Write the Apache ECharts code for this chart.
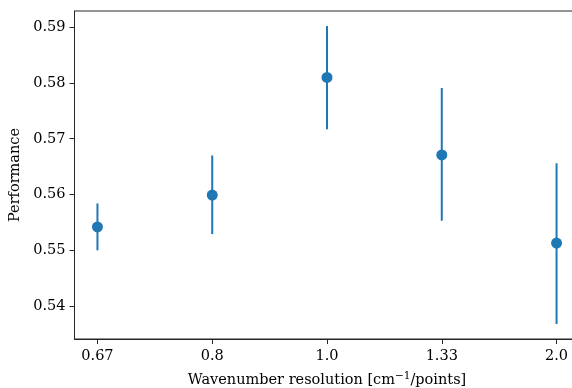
<!DOCTYPE html>
<html><head><meta charset="utf-8">
<script src="https://cdn.jsdelivr.net/npm/echarts@6/dist/echarts.min.js"></script>
<style>html,body{margin:0;padding:0;background:#fff}#c{width:572px;height:388px}</style>
</head><body><div id="c"></div>
<script>
const categories = ['0.67', '0.8', '1.0', '1.33', '2.0'];
const means = [0.5542, 0.5599, 0.5810, 0.5671, 0.5513];
const upper = [0.5584, 0.5670, 0.5902, 0.5791, 0.5656];
const lower = [0.5500, 0.5529, 0.5717, 0.5553, 0.5368];
const yTicks = [0.54, 0.55, 0.56, 0.57, 0.58, 0.59];

const FONT = 'DejaVu Serif';
const FS = 14.5;
const C = '#1f77b4';
const idx = categories.map((_, i) => i);

const chart = echarts.init(document.getElementById('c'), null, {renderer: 'canvas'});
chart.setOption({
  animation: false,
  backgroundColor: '#fff',
  grid: {left: 74.5, top: 11, width: 505, height: 328, outerBoundsMode: 'none', containLabel: false,
    show: true, borderColor: '#262626', borderWidth: 1},
  xAxis: {
    type: 'value', min: -0.2, max: 4.2,
    name: 'Wavenumber resolution [{s|cm}{sup|−1}{s|/points]}',
    nameLocation: 'middle', nameGap: 32,
    nameTextStyle: {fontFamily: FONT, fontSize: FS, color: '#000',
      rich: {s: {fontFamily: FONT, fontSize: FS, color: '#000'},
             sup: {fontFamily: FONT, fontSize: 10.5, color: '#000', verticalAlign: 'top', padding: [0, 0, 7, 0]}}},
    axisLine: {show: true, onZero: false, lineStyle: {color: '#262626', width: 1}},
    axisTick: {show: true, length: 5, lineStyle: {color: '#262626'}, customValues: idx},
    axisLabel: {color: '#000', fontFamily: FONT, fontSize: FS, margin: 10,
      customValues: idx, formatter: v => categories[Math.round(v)]},
    splitLine: {show: false}
  },
  yAxis: {
    type: 'value', min: 0.5341, max: 0.5929,
    name: 'Performance', nameLocation: 'middle', nameGap: 51, nameRotate: 90,
    nameTextStyle: {fontFamily: FONT, fontSize: FS, color: '#000'},
    axisLine: {show: true, onZero: false, lineStyle: {color: '#262626', width: 1}},
    axisTick: {show: true, length: 5, lineStyle: {color: '#262626'}, customValues: yTicks},
    axisLabel: {color: '#000', fontFamily: FONT, fontSize: FS, margin: 9,
      customValues: yTicks, formatter: v => v.toFixed(2)},
    splitLine: {show: false}
  },
  series: [
    {
      type: 'custom',
      clip: false,
      data: idx.map(i => [i, lower[i], upper[i]]),
      renderItem: function (params, api) {
        const p1 = api.coord([api.value(0), api.value(1)]);
        const p2 = api.coord([api.value(0), api.value(2)]);
        return {type: 'line', shape: {x1: p1[0], y1: p1[1], x2: p2[0], y2: p2[1]},
          style: {stroke: C, lineWidth: 2}};
      },
      z: 2
    },
    {
      type: 'scatter',
      data: idx.map(i => [i, means[i]]),
      symbol: 'circle', symbolSize: 11,
      itemStyle: {color: C, opacity: 1},
      z: 3
    }
  ]
});
</script></body></html>
